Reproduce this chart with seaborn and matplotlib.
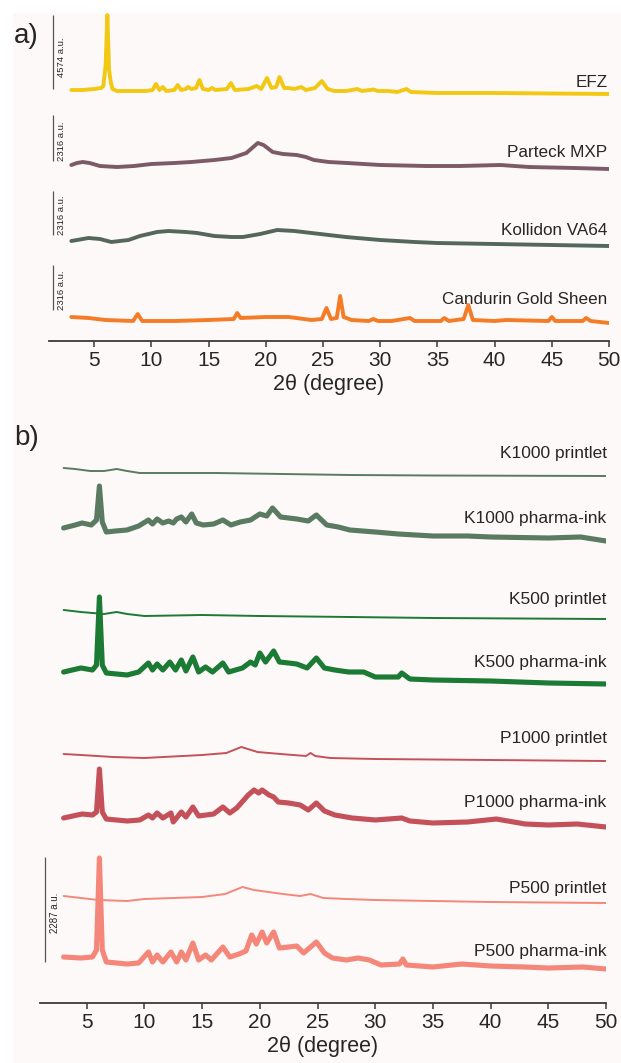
import numpy as np
import matplotlib
matplotlib.use("Agg")
import matplotlib.pyplot as plt
import seaborn as sns
from matplotlib.patches import Rectangle

# -----------------------------
# Data (2theta in degrees, intensity in a.u. scaled to screen px,
# 0 = value at 50 deg for each pattern)
# -----------------------------
efz_x = [3.0, 4.0, 5.0, 5.6, 5.8, 6.0, 6.15, 6.3, 6.45, 6.6, 7.0, 8.0, 9.5, 10.1, 10.4, 10.7,
         11.0, 11.3, 12.0, 12.3, 12.6, 13.0, 13.2, 13.5, 13.9, 14.2, 14.5, 15.0, 15.3, 15.6,
         16.6, 16.95, 17.3, 18.5, 19.2, 19.6, 20.1, 20.5, 20.9, 21.2, 21.6, 22.0, 22.5, 23.1,
         23.5, 24.3, 24.9, 25.4, 26.0, 27.0, 28.0, 28.4, 29.1, 29.4, 29.8, 30.7, 31.5, 32.3,
         32.7, 35.0, 38.0, 40.0, 45.0, 50.0]
efz_y = [4, 4, 5, 6, 8, 29, 79, 24, 12, 5, 3, 3, 3, 4, 10, 4,
         7, 3, 4, 9, 4, 5, 7, 5, 6, 14, 5, 4, 6, 4,
         5, 11, 4, 5, 8, 5, 16, 6, 7, 17, 6, 6, 5, 7,
         4, 6, 13, 5, 3, 3, 5, 3, 4, 4.5, 3, 3, 2, 5,
         2, 1, 1, 1, 0.5, 0]

parteck_x = [3.0, 3.5, 4.0, 4.6, 5.5, 7.0, 8.5, 10.0, 12.0, 13.5, 15.5, 17.0, 18.3, 18.9, 19.3,
             19.8, 20.6, 21.5, 22.7, 23.5, 24.2, 25.5, 27.1, 30.0, 34.0, 37.0, 40.5, 43.0, 47.0, 50.0]
parteck_y = [4, 6, 7, 6, 3, 2, 3, 5, 6, 7, 9, 11, 16, 22, 26,
             24, 17, 15, 14, 12, 9, 7, 6, 4, 3, 3, 4, 2, 1, 0]

kollidon_x = [3.0, 4.5, 5.5, 6.5, 8.0, 9.0, 10.5, 11.5, 13.0, 14.0, 15.5, 17.0, 18.0, 19.5, 21.0,
              22.5, 24.0, 25.5, 27.0, 30.0, 33.0, 35.0, 40.0, 45.0, 50.0]
kollidon_y = [5, 8, 7, 4, 6, 10, 14, 15, 14, 13, 10, 9, 9, 12, 16,
              15, 13, 11, 9, 6, 4, 3, 2, 1, 0]

candurin_x = [3.0, 4.5, 6.0, 8.4, 8.8, 9.2, 12.0, 15.0, 17.2, 17.5, 17.8, 20.0, 22.0, 24.0, 24.9,
              25.3, 25.7, 26.2, 26.5, 26.8, 27.5, 29.0, 29.4, 29.8, 31.0, 32.6, 33.0, 35.3, 35.6,
              36.0, 37.3, 37.7, 38.1, 40.0, 41.0, 44.7, 45.0, 45.3, 47.7, 48.0, 48.4, 50.0]
candurin_y = [6, 5, 3, 2, 9, 2, 2, 3, 4, 10, 5, 6, 6, 3, 4,
              15, 4, 5, 27, 6, 3, 2, 4, 2, 2, 5, 2, 2, 5,
              2, 4, 18, 3, 2, 3, 2, 6, 2, 2, 5, 2, 0]

k1000_printlet_x = [3.0, 4.0, 5.3, 6.5, 7.6, 8.5, 9.6, 13.0, 16.2, 22.0, 27.8, 35.0, 50.0]
k1000_printlet_y = [8, 7, 5, 5, 7, 5, 3, 3, 3, 2, 1, 0.5, 0]

k1000_ink_x = [3.0, 4.0, 4.6, 5.4, 5.85, 6.1, 6.35, 6.7, 7.5, 8.5, 9.5, 10.35, 10.7, 11.1, 11.6,
               12.1, 12.5, 12.8, 13.2, 13.6, 14.1, 14.5, 15.1, 16.0, 16.8, 17.5, 18.3, 19.2, 20.0,
               20.6, 21.1, 21.8, 23.2, 24.2, 24.9, 25.8, 26.8, 27.8, 30.0, 32.0, 35.0, 38.0, 40.0,
               45.0, 47.8, 50.0]
k1000_ink_y = [13, 16, 18, 16, 21, 55, 19, 9, 10, 11, 15, 21, 17, 22, 18,
               20, 18, 22, 24, 19, 27, 18, 16, 17, 21, 16, 19, 21, 27,
               25, 33, 24, 22, 20, 26, 16, 14, 11, 9, 7, 5, 5, 4,
               3, 4, 0]

k500_printlet_x = [3.0, 4.5, 6.5, 7.6, 8.5, 10.0, 15.0, 20.0, 27.8, 35.0, 50.0]
k500_printlet_y = [9, 7, 5, 7, 5, 3, 4, 3, 2, 1, 0]

k500_ink_x = [3.0, 4.5, 5.5, 5.85, 6.1, 6.35, 6.7, 8.5, 9.5, 10.35, 10.7, 11.1, 11.6, 12.2, 12.7,
              13.2, 13.6, 14.2, 14.7, 15.3, 15.9, 16.8, 17.3, 18.5, 19.2, 19.6, 20.0, 20.5, 21.2,
              21.7, 22.5, 23.2, 24.1, 24.9, 25.6, 26.5, 27.7, 29.0, 30.0, 32.0, 32.3, 33.0, 35.0,
              40.0, 45.0, 50.0]
k500_ink_y = [12, 16, 14, 19, 87, 19, 11, 9, 12, 21, 14, 20, 14, 22, 14,
              24, 13, 27, 12, 17, 12, 21, 12, 16, 22, 19, 31, 22, 33,
              22, 21, 20, 16, 26, 16, 14, 12, 12, 7, 7, 11, 5, 4,
              3, 1, 0]

p1000_printlet_x = [3.0, 4.5, 7.3, 10.0, 15.0, 17.1, 18.4, 19.8, 21.8, 24.0, 24.4, 24.8, 26.1, 30.0,
                    40.0, 50.0]
p1000_printlet_y = [7, 6, 4, 3, 6, 8, 14, 9, 7, 5, 8, 5, 3, 2, 1, 0]

p1000_ink_x = [3.0, 4.6, 5.5, 5.85, 6.1, 6.35, 6.7, 8.5, 9.6, 10.35, 10.7, 11.1, 11.6, 12.3, 12.5,
               13.2, 13.6, 14.2, 14.7, 16.0, 16.8, 17.4, 18.0, 19.0, 19.5, 19.9, 20.2, 20.8, 21.2,
               21.6, 22.5, 23.5, 24.2, 24.9, 25.6, 26.5, 28.0, 30.0, 32.3, 33.0, 35.0, 38.0, 40.5,
               43.0, 45.0, 47.5, 50.0]
p1000_ink_y = [9, 13, 12, 15, 58, 15, 8, 6, 7, 12, 9, 14, 9, 14, 5,
               15, 10, 20, 11, 13, 20, 14, 19, 32, 37, 34, 37, 32, 30,
               25, 24, 22, 17, 24, 16, 12, 9, 7, 9, 6, 4, 5, 8,
               3, 2, 3, 0]

p500_printlet_x = [3.0, 4.5, 6.0, 8.5, 10.0, 15.0, 17.0, 18.5, 19.5, 22.0, 23.5, 24.4, 25.5, 27.5,
                   30.0, 40.0, 50.0]
p500_printlet_y = [7, 5, 3, 2, 4, 6, 9, 16, 13, 9, 7, 9, 5, 4, 3, 1, 0]

p500_ink_x = [3.0, 4.5, 5.5, 5.85, 6.1, 6.35, 6.7, 8.5, 9.5, 10.35, 10.7, 11.1, 11.6, 12.3, 12.8,
              13.2, 13.6, 14.2, 14.7, 15.3, 15.8, 16.8, 17.4, 18.2, 18.8, 19.3, 19.7, 20.2, 20.6,
              21.2, 21.7, 22.5, 23.2, 23.8, 24.9, 25.6, 26.3, 27.5, 28.5, 29.5, 30.5, 32.1, 32.4,
              32.7, 35.0, 37.5, 40.0, 43.0, 45.0, 48.0, 50.0]
p500_ink_y = [12, 11, 12, 19, 111, 19, 7, 5, 6, 17, 7, 14, 7, 17, 7,
              17, 9, 26, 9, 14, 9, 22, 12, 15, 18, 34, 25, 37, 26,
              37, 21, 22, 23, 16, 27, 16, 11, 9, 11, 9, 4, 5, 10,
              4, 2, 5, 3, 2, 1, 2, 0]

labels_a = ["EFZ", "Parteck MXP", "Kollidon VA64", "Candurin Gold Sheen"]
labels_b = ["K1000 printlet", "K1000 pharma-ink", "K500 printlet", "K500 pharma-ink",
            "P1000 printlet", "P1000 pharma-ink", "P500 printlet", "P500 pharma-ink"]
scale_a_text = ["4574 a.u.", "2316 a.u.", "2316 a.u.", "2316 a.u."]
scale_b_text = "2287 a.u."

# -----------------------------
# Layout / style (figure pixel positions, y grows downward)
# -----------------------------
W, H = 621, 1063
baseline_a = [94, 169, 246, 323]        # where each pattern ends at 50 deg
baseline_b = [476, 541, 619, 684, 761, 827, 903, 969]
label_base_a = [87, 157, 235, 304]
label_base_b = [458, 523, 604, 667, 743, 807, 893, 956]
bars_a = [(15, 89), (115, 161), (191, 235), (265, 310)]
bar_b = (857, 962)

colors_a = ["#F2C814", "#7C5A68", "#55675A", "#F47C26"]
colors_b = ["#5A7B62", "#5A7B62", "#1B7A33", "#1B7A33",
            "#C4515A", "#C4515A", "#F4877A", "#F4877A"]
lw_b = [1.4, 3.7, 1.4, 3.7, 1.4, 3.7, 1.4, 3.7]

sns.set_theme(style="ticks")
plt.rcParams['font.family'] = ['Liberation Sans', 'DejaVu Sans']
text_col = "#262626"
axis_col = "#3a3a3a"

fig = plt.figure(figsize=(W / 100, H / 100), dpi=100, facecolor="white")
# light background panel behind both plots
fig.patches.append(Rectangle((13 / W, 0), 1 - 13 / W, 1 - 13 / H, transform=fig.transFigure,
                             facecolor="#FDF9F8", edgecolor="none", zorder=-5))


def make_axes(left_px, right_px, top_px, bottom_px, x_lo):
    ax = fig.add_axes([left_px / W, 1 - bottom_px / H, (right_px - left_px) / W,
                       (bottom_px - top_px) / H])
    ax.set_facecolor("none")
    ax.set_xlim(x_lo, 50)
    ax.set_ylim(-bottom_px, -top_px)
    sns.despine(ax=ax, left=True)
    ax.set_yticks([])
    ax.spines['bottom'].set_color(axis_col)
    ax.spines['bottom'].set_linewidth(1.3)
    ax.set_xticks(range(5, 51, 5))
    ax.tick_params(axis='x', length=4, width=1.1, color=axis_col, pad=3,
                   labelsize=15, labelcolor=text_col)
    ax.set_xlabel("2θ (degree)", fontsize=15.5, color=text_col, labelpad=3)
    return ax


# -----------------------------
# Panel a
# -----------------------------
ax_a = make_axes(49, 609, 13, 341, 50 - 560 / 11.44)
series_a = [(efz_x, efz_y), (parteck_x, parteck_y), (kollidon_x, kollidon_y),
            (candurin_x, candurin_y)]
for (x, y), base, col, lab, lb in zip(series_a, baseline_a, colors_a, labels_a, label_base_a):
    sns.lineplot(x=x, y=np.array(y) - base, ax=ax_a, color=col, linewidth=2.8,
                 estimator=None, sort=False)
    ax_a.text(49.87, -lb, lab, ha="right", va="baseline", fontsize=12.3, color=text_col)

bar_x_a = ax_a.get_xlim()[0] + 4 / 11.44
for (t, b), s in zip(bars_a, scale_a_text):
    ax_a.plot([bar_x_a, bar_x_a], [-b, -t], color="#555555", lw=0.9, solid_capstyle="butt")
for (t, b), s, i in zip(bars_a, scale_a_text, range(4)):
    yc = 57 if i == 0 else b - 20
    ax_a.text(bar_x_a + 0.75, -yc, s, rotation=90, ha="center", va="center",
              fontsize=6.8, color=text_col)

fig.text(14 / W, 1 - 36 / H, "a)", fontsize=20, color=text_col, ha="left", va="center")

# -----------------------------
# Panel b
# -----------------------------
ax_b = make_axes(40, 606, 440, 1003, 50 - 566 / 11.54)
series_b = [(k1000_printlet_x, k1000_printlet_y), (k1000_ink_x, k1000_ink_y),
            (k500_printlet_x, k500_printlet_y), (k500_ink_x, k500_ink_y),
            (p1000_printlet_x, p1000_printlet_y), (p1000_ink_x, p1000_ink_y),
            (p500_printlet_x, p500_printlet_y), (p500_ink_x, p500_ink_y)]
for (x, y), base, col, lw, lab, lb in zip(series_b, baseline_b, colors_b, lw_b, labels_b,
                                          label_base_b):
    sns.lineplot(x=x, y=np.array(y) - base, ax=ax_b, color=col, linewidth=lw,
                 estimator=None, sort=False)
    ax_b.text(50.05, -lb, lab, ha="right", va="baseline", fontsize=12.5, color=text_col,
              clip_on=False)

bar_x_b = ax_b.get_xlim()[0] + 4.5 / 11.54
ax_b.plot([bar_x_b, bar_x_b], [-bar_b[1], -bar_b[0]], color="#555555", lw=0.9,
          solid_capstyle="butt")
ax_b.text(bar_x_b + 0.9, -913, scale_b_text, rotation=90, ha="center", va="center",
          fontsize=7, color=text_col)

fig.text(14 / W, 1 - 438 / H, "b)", fontsize=20, color=text_col, ha="left", va="center")

fig.savefig("out.png", dpi=100, facecolor=fig.get_facecolor())
